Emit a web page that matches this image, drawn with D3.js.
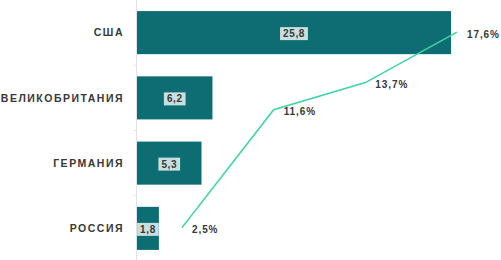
<!DOCTYPE html>
<html lang="ru">
<head>
  <meta charset="UTF-8" />
  <title>Страны</title>
  <script src="https://d3js.org/d3.v7.min.js"></script>
  <style>
    body { margin: 0; background: #fff; font-family: "Liberation Sans", Arial, sans-serif; }
    svg text { font-weight: bold; fill: #383838; }
  </style>
</head>
<body>
  <svg width="501" height="260"></svg>

  <script>
    const countries = ["США", "ВЕЛИКОБРИТАНИЯ", "ГЕРМАНИЯ", "РОССИЯ"];
    const barValues = [25.8, 6.2, 5.3, 1.8];
    const lineValues = [2.5, 11.6, 13.7, 17.6];
    const lineSteps = ["a", "b", "c", "d"];

    const barColor = "#0d6d72";
    const lineColor = "#3fd4a2";
    const fmt = v => String(v).replace(".", ",");

    const svg = d3.select("svg");

    const x = d3.scaleLinear().domain([0, 25.8]).range([137, 451]);
    const y = d3.scaleBand().domain(countries).range([0, 261])
      .paddingInner(0.34).paddingOuter(0.17);

    // ось слева
    svg.append("line")
      .attr("x1", 136.5).attr("x2", 136.5)
      .attr("y1", 0).attr("y2", 260)
      .attr("stroke", "#e2e2e2");
    svg.selectAll(".tick")
      .data(countries.slice(1))
      .enter().append("line")
      .attr("x1", 133).attr("x2", 136.5)
      .attr("y1", d => y(d) - y.step() * y.paddingInner() / 2)
      .attr("y2", d => y(d) - y.step() * y.paddingInner() / 2)
      .attr("stroke", "#e6e6e6");

    const data = countries.map((c, i) => ({ name: c, value: barValues[i] }));

    svg.selectAll("rect.bar")
      .data(data)
      .enter().append("rect")
      .attr("class", "bar")
      .attr("x", x(0))
      .attr("y", d => y(d.name))
      .attr("width", d => x(d.value) - x(0))
      .attr("height", y.bandwidth())
      .attr("fill", barColor);

    svg.selectAll("text.cat")
      .data(data)
      .enter().append("text")
      .attr("class", "cat")
      .attr("x", 124)
      .attr("y", d => y(d.name) + y.bandwidth() / 2)
      .attr("dy", "0.35em")
      .attr("text-anchor", "end")
      .attr("font-size", "10.5px")
      .attr("letter-spacing", "1.5px")
      .text(d => d.name);

    // подписи значений на светлой плашке
    const vl = svg.selectAll("g.vl")
      .data(data)
      .enter().append("g")
      .attr("class", "vl");
    const vtext = vl.append("text")
      .attr("x", d => (x(0) + x(d.value)) / 2)
      .attr("y", d => y(d.name) + y.bandwidth() / 2 + 1)
      .attr("dy", "0.35em")
      .attr("text-anchor", "middle")
      .attr("font-size", "10px")
      .attr("letter-spacing", "0.6px")
      .text(d => fmt(d.value));
    vtext.each(function() {
      const b = this.getBBox();
      d3.select(this.parentNode).insert("rect", "text")
        .attr("x", b.x - 3).attr("y", b.y - 1)
        .attr("width", b.width + 6).attr("height", b.height + 2)
        .attr("fill", "#c9dfdf");
    });

    // линия
    const lx = d3.scalePoint().domain(lineSteps).range([182, 457]);
    const ly = d3.scaleLinear().domain([0, 20]).range([260, 1]);
    const pts = lineSteps.map((s, i) => ({ s, v: lineValues[i] }));

    svg.append("path")
      .datum(pts)
      .attr("fill", "none")
      .attr("stroke", lineColor)
      .attr("stroke-width", 1.6)
      .attr("d", d3.line().x(d => lx(d.s)).y(d => ly(d.v)));

    svg.selectAll("text.pct")
      .data(pts)
      .enter().append("text")
      .attr("class", "pct")
      .attr("x", d => lx(d.s) + 10)
      .attr("y", d => ly(d.v) + 2)
      .attr("dy", "0.35em")
      .attr("font-size", "10px")
      .attr("letter-spacing", "0.9px")
      .text(d => fmt(d.v) + "%");
  </script>
</body>
</html>
